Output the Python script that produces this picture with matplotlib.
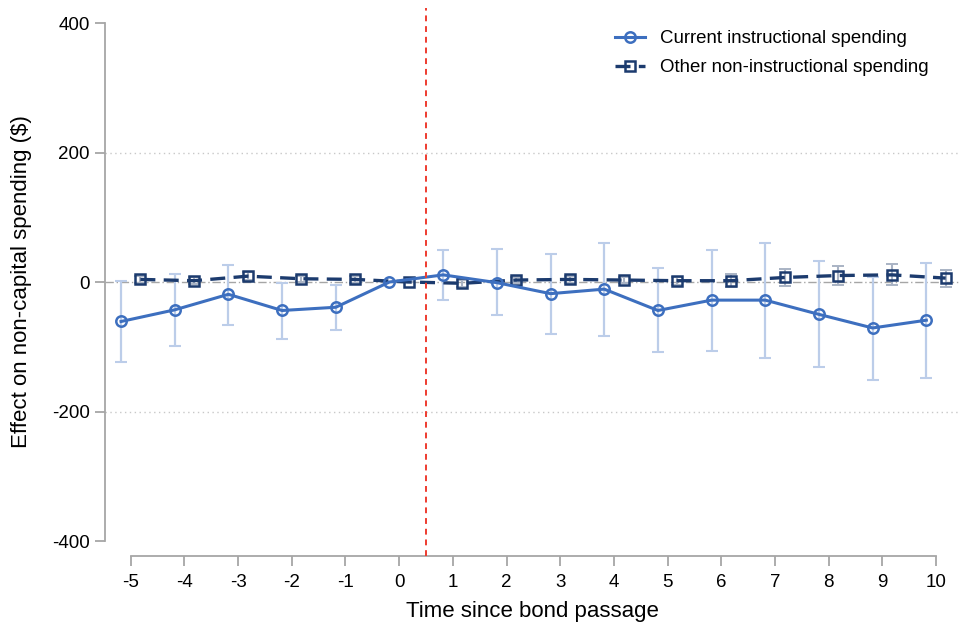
#!/usr/bin/env python3
import matplotlib

matplotlib.use("Agg")
import matplotlib.pyplot as plt
import numpy as np

# event time
PERIODS = [-5, -4, -3, -2, -1, 0, 1, 2, 3, 4, 5, 6, 7, 8, 9, 10]

# current instructional spending: point estimate and 95% CI
INSTR_EST = [-61, -43, -19, -44, -39, 0, 11, -1, -18, -11, -44, -28, -28, -50, -71, -59]
INSTR_LO = [-124, -99, -66, -88, -74, 0, -28, -51, -81, -83, -108, -107, -117, -131, -152, -148]
INSTR_HI = [1, 12, 27, -1, -4, 0, 49, 51, 43, 61, 21, 50, 61, 33, 8, 30]

# other non-instructional spending
OTHER_EST = [4, 2, 9, 5, 4, 0, -2, 3, 4, 3, 2, 2, 7, 10, 11, 6]
OTHER_LO = [-1, -3, 3, 0, -1, 0, -7, -2, -1, -2, -4, -7, -6, -4, -5, -7]
OTHER_HI = [9, 7, 15, 10, 9, 0, 3, 8, 9, 8, 7, 12, 20, 25, 28, 19]

LABELS = ["Current instructional spending", "Other non-instructional spending"]
YTICKS = [-400, -200, 0, 200, 400]

BLUE = "#3d6fbf"
NAVY = "#1c3b6e"
CI_BLUE = "#bccde9"
CI_GRAY = "#a9b3c4"
AXIS_GRAY = "#a6a6a6"

plt.rcParams["font.family"] = ["Liberation Sans", "DejaVu Sans"]
plt.rcParams["axes.unicode_minus"] = False

W, H = 961, 627
fig = plt.figure(figsize=(W / 100, H / 100), dpi=100)
# axes box in pixels: left 105, right 960, top 8, bottom 556
ax = fig.add_axes([105 / W, 1 - 556 / H, (960 - 105) / W, (556 - 8) / H])

x = np.array(PERIODS, dtype=float)
off = 0.18

ax.axhline(0, color=AXIS_GRAY, lw=1.0, ls=(0, (6, 2, 1, 2)), zorder=1)
for g in (-200, 200):
    ax.axhline(g, color="#c8c8c8", lw=1.0, ls=(0, (1, 2.5)), zorder=1)

ei = np.array(INSTR_EST)
ax.errorbar(x - off, ei, yerr=[ei - np.array(INSTR_LO), np.array(INSTR_HI) - ei],
            fmt="none", ecolor=CI_BLUE, elinewidth=1.6, capsize=4.5, capthick=1.5, zorder=2)
eo = np.array(OTHER_EST)
ax.errorbar(x + off, eo, yerr=[eo - np.array(OTHER_LO), np.array(OTHER_HI) - eo],
            fmt="none", ecolor=CI_GRAY, elinewidth=1.5, capsize=4.5, capthick=1.4, zorder=2)

ax.plot(x - off, ei, color=BLUE, lw=2.2, marker="o", ms=7.5, mfc="none",
        mec=BLUE, mew=1.8, label=LABELS[0], zorder=4)
ax.plot(x + off, eo, color=NAVY, lw=2.4, ls=(0, (4.5, 2.5)), marker="s", ms=7.5,
        mfc="none", mec=NAVY, mew=1.8, label=LABELS[1], zorder=3)

ax.axvline(0.5, color="#ee3b2f", lw=1.4, ls=(0, (3, 2.5)), zorder=5)

px_x = (936 - 130.7) / 15
ax.set_xlim(-5 - (130.7 - 105) / px_x, 10 + (960 - 936) / px_x)
px_y = (541 - 23) / 800
ax.set_ylim(-400 - (556 - 541) / px_y, 400 + (23 - 8) / px_y)

ax.set_xticks(PERIODS)
ax.set_yticks(YTICKS)
ax.set_yticklabels([str(v) for v in YTICKS])
for side in ("top", "right"):
    ax.spines[side].set_visible(False)
for side in ("left", "bottom"):
    ax.spines[side].set_color(AXIS_GRAY)
    ax.spines[side].set_linewidth(1.3)
ax.spines["left"].set_bounds(-400, 400)
ax.spines["bottom"].set_bounds(-5, 10)
ax.tick_params(axis="both", colors=AXIS_GRAY, labelcolor="black", labelsize=13.5,
               length=7, width=1.3)
ax.tick_params(axis="x", pad=6)
ax.tick_params(axis="y", pad=4)

ax.set_xlabel("Time since bond passage", fontsize=16, labelpad=7)
ax.set_ylabel("Effect on non-capital spending ($)", fontsize=16, labelpad=14)

ax.legend(loc="upper left", bbox_to_anchor=(0.5965, 0.959), frameon=False, fontsize=13.4,
          borderaxespad=0, borderpad=0, handlelength=1.6, handletextpad=0.8,
          labelspacing=0.62)

fig.savefig("out.png", dpi=100)
